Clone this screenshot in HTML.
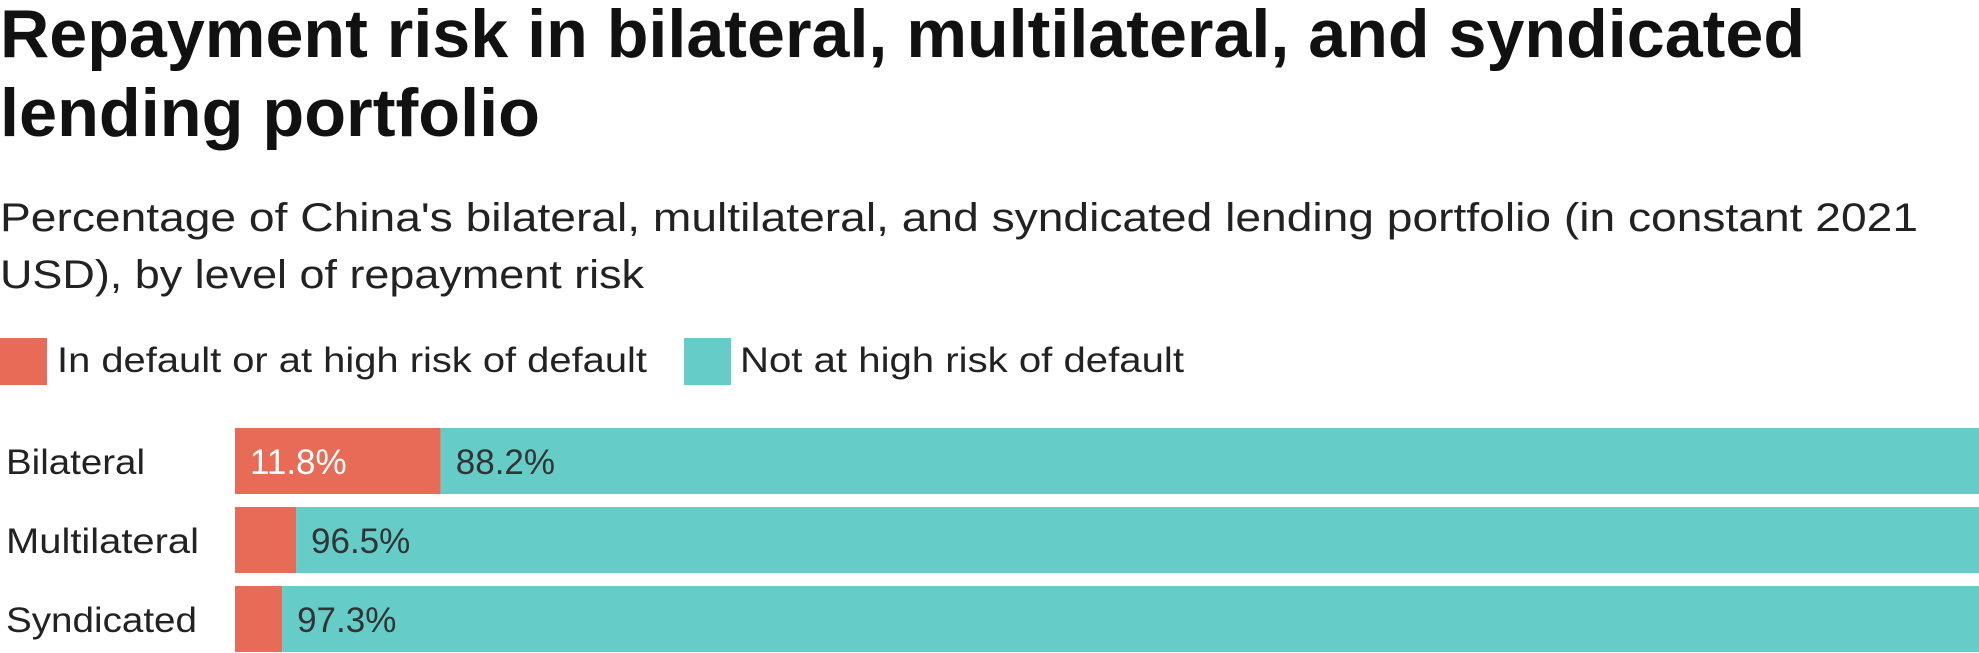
<!DOCTYPE html>
<html><head><meta charset="utf-8"><style>
html,body{margin:0;padding:0;background:#fff;}
svg{display:block;font-family:"Liberation Sans",Arial,sans-serif;}
</style></head><body>
<svg id="chart" width="1979" height="653" viewBox="0 0 1979 653">
<text x="0" y="57" font-size="68" font-weight="bold" fill="#111" textLength="1805" lengthAdjust="spacingAndGlyphs">Repayment risk in bilateral, multilateral, and syndicated</text>
<text x="0" y="136" font-size="68" font-weight="bold" fill="#111" textLength="540" lengthAdjust="spacingAndGlyphs">lending portfolio</text>
<text x="0" y="231" font-size="40" fill="#222" textLength="1918" lengthAdjust="spacingAndGlyphs">Percentage of China's bilateral, multilateral, and syndicated lending portfolio (in constant 2021</text>
<text x="0" y="288" font-size="40" fill="#222" textLength="644" lengthAdjust="spacingAndGlyphs">USD), by level of repayment risk</text>
<g>
<rect x="0" y="338" width="47" height="47" fill="#e76b56"/>
<text x="57" y="372" font-size="35" fill="#222" textLength="590" lengthAdjust="spacingAndGlyphs">In default or at high risk of default</text>
<rect x="684" y="338" width="47" height="47" fill="#65ccc8"/>
<text x="740" y="372" font-size="35" fill="#222" textLength="444" lengthAdjust="spacingAndGlyphs">Not at high risk of default</text>
</g>
<g id="bars"></g>
</svg>
<script>
const categories = ["Bilateral", "Multilateral", "Syndicated"];
const highRisk = [11.8, 3.5, 2.7];
const notHighRisk = [88.2, 96.5, 97.3];
const highRiskLabels = ["11.8%", "", ""];
const notHighRiskLabels = ["88.2%", "96.5%", "97.3%"];
const labelWidths = [139, 193, 191];

const NS = "http://www.w3.org/2000/svg";
const x0 = 235, x1 = 1979, top0 = 428, bandH = 79, barH = 66;
function xs(v){ return x0 + (x1 - x0) * v / 100; }
function ys(i){ return top0 + i * bandH; }
const g = document.getElementById("bars");
function mk(tag, attrs){ const e = document.createElementNS(NS, tag); for (const k in attrs) e.setAttribute(k, attrs[k]); return e; }
categories.forEach((c, i) => {
  const y = ys(i);
  const total = highRisk[i] + notHighRisk[i];
  const lab = mk("text", {x: 6, y: y + barH/2 + 13, "font-size": 35, fill: "#222", textLength: labelWidths[i], lengthAdjust: "spacingAndGlyphs"});
  lab.textContent = c;
  
  
  g.appendChild(lab);
  const r1 = mk("rect", {x: xs(0), y: y, width: xs(highRisk[i]/total*100) - xs(0), height: barH, fill: "#e76b56"});
  
  
  g.appendChild(r1);
  const r2 = mk("rect", {x: xs(highRisk[i]/total*100), y: y, width: xs(100) - xs(highRisk[i]/total*100), height: barH, fill: "#65ccc8"});
  
  
  g.appendChild(r2);
  if (highRiskLabels[i]) {
    const t1 = mk("text", {x: xs(0) + 15, y: y + barH/2 + 13, "font-size": 35, fill: "#fff"});
    t1.textContent = highRiskLabels[i];
    
    
    g.appendChild(t1);
  }
  const t2 = mk("text", {x: xs(highRisk[i]/total*100) + 15, y: y + barH/2 + 13, "font-size": 35, fill: "#333"});
  t2.textContent = notHighRiskLabels[i];
  
  
  g.appendChild(t2);
});
</script>
</body></html>
